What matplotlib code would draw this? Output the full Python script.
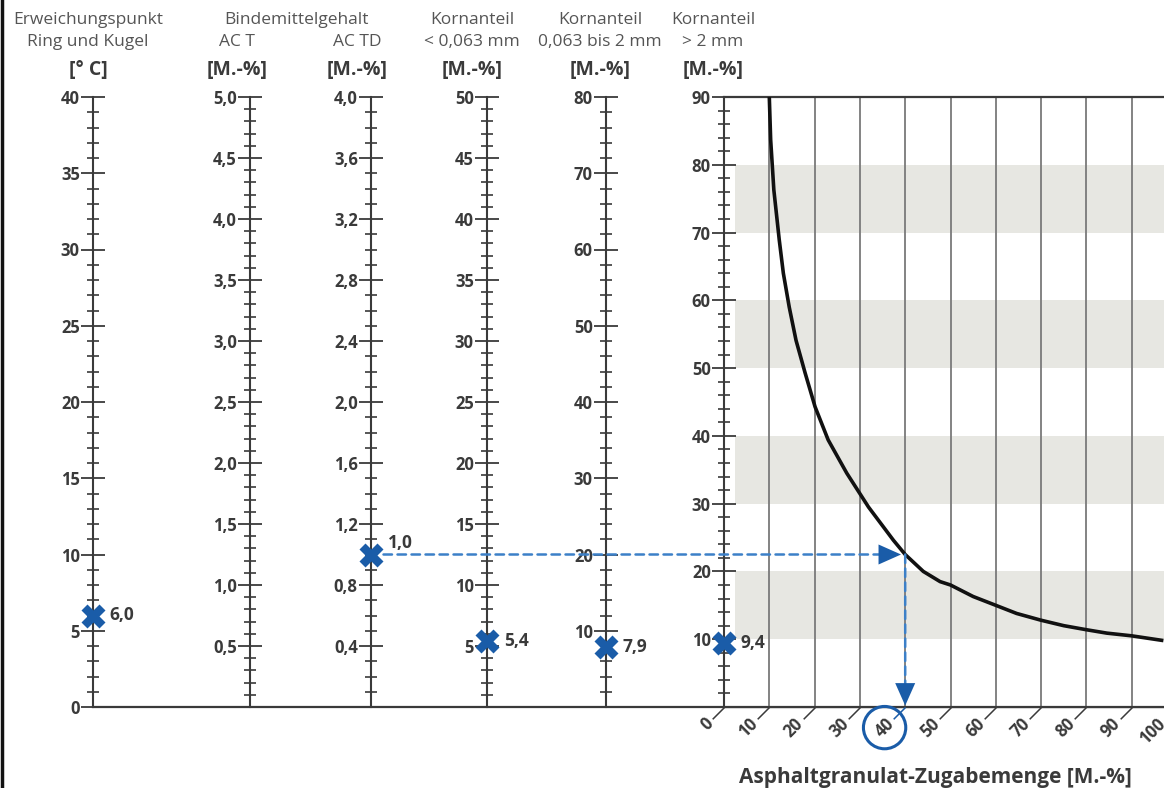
import matplotlib.pyplot as plt
import numpy as np
from matplotlib.ticker import MultipleLocator, FuncFormatter
from matplotlib.patches import ConnectionPatch
from matplotlib.path import Path
from matplotlib.lines import Line2D

plt.rcParams['font.family'] = ['Open Sans', 'DejaVu Sans']
plt.rcParams['font.weight'] = 'bold'

# --- data -------------------------------------------------------------
# vertical scales of the nomogram, left to right
scale_max = [40, 5.0, 4.0, 50, 80]
scale_major = [5, 0.5, 0.4, 5, 10]
scale_minor = [1, 0.1, 0.1, 1, 2]
scale_decimals = [0, 1, 1, 0, 0]
scale_values = [6.0, None, 1.0, 5.4, 7.9]

# right scale (Kornanteil > 2 mm) and the RA curve
coarse_max = 90
coarse_value = 9.4
zugabe_ticks = [0, 10, 20, 30, 40, 50, 60, 70, 80, 90, 100]
zugabe_result = 40
band_ranges = [(10, 20), (30, 40), (50, 60), (70, 80)]
curve_x = [10, 10.3, 11, 12.2, 13.1, 14.4, 15.9, 17.9, 20.1, 23, 27.1, 31.9, 37.4, 40,
           44, 47.7, 50, 55, 60, 64.6, 70, 75, 80, 84.5, 90, 97]
curve_y = [90, 83.7, 76.3, 68.9, 64, 59, 54.1, 49.3, 44.3, 39.4, 34.5, 29.5, 24.6, 22.5,
           20, 18.5, 18, 16.3, 15, 13.8, 12.8, 12, 11.4, 10.9, 10.5, 9.8]

header_row1 = ['Erweichungspunkt', '', '', 'Kornanteil', 'Kornanteil', 'Kornanteil']
header_row2 = ['Ring und Kugel', 'AC T', 'AC TD', '< 0,063 mm', '0,063 bis 2 mm', '> 2 mm']
header_unit = ['[° C]', '[M.-%]', '[M.-%]', '[M.-%]', '[M.-%]', '[M.-%]']
group_title = 'Bindemittelgehalt'
xlabel = 'Asphaltgranulat-Zugabemenge [M.-%]'

# --- layout (pixels) --------------------------------------------------
W, H, DPI = 1164, 788, 100
axis_px = [93, 250, 371, 487, 606, 724]
header_cx = [88, 237, 357, 472, 600, 713]
TOP, BOT, RIGHT = 97, 707, 1164

BLUE = '#1a5ca8'
BLUE_LINE = '#3c80c8'
DARK = '#3a3a3a'
GREY_TXT = '#555555'
TICK_FS = 12


def fx(px):
    return px / W


def fy(py):
    return 1 - py / H


def fmt(dec, show_zero):
    def f(v, pos):
        if abs(v) < 1e-9 and not show_zero:
            return ''
        return f'{v:.{dec}f}'.replace('.', ',')
    return FuncFormatter(f)


def style_scale(ax, vmax, major, minor, dec, show_zero=False):
    ax.set_ylim(0, vmax)
    ax.yaxis.set_major_locator(MultipleLocator(major))
    ax.yaxis.set_minor_locator(MultipleLocator(minor))
    ax.yaxis.set_major_formatter(fmt(dec, show_zero))
    ax.tick_params(axis='y', which='major', direction='inout', length=17, width=1.3,
                   pad=1, labelsize=TICK_FS, colors=DARK)
    ax.tick_params(axis='y', which='minor', direction='inout', length=8, width=1.2, colors=DARK)
    ax.spines['left'].set_color(DARK)
    ax.spines['left'].set_linewidth(1.5)


fig = plt.figure(figsize=(W / DPI, H / DPI), dpi=DPI)
ax_b, ax_h = fy(BOT), (BOT - TOP) / H

# baseline running under all scales
base = fig.add_axes([fx(axis_px[0]), ax_b, fx(RIGHT - axis_px[0]), ax_h])
base.patch.set_alpha(0)
for s in ['top', 'right', 'left']:
    base.spines[s].set_visible(False)
base.spines['bottom'].set_color(DARK)
base.spines['bottom'].set_linewidth(1.6)
base.set_xticks([])
base.set_yticks([])

# left scales
scale_axes = []
for i in range(len(scale_max)):
    ax = fig.add_axes([fx(axis_px[i]), ax_b, 0.001, ax_h])
    ax.patch.set_alpha(0)
    for s in ['top', 'right', 'bottom']:
        ax.spines[s].set_visible(False)
    ax.set_xticks([])
    ax.set_xlim(0, 1)
    style_scale(ax, scale_max[i], scale_major[i], scale_minor[i], scale_decimals[i], show_zero=(i == 0))
    if scale_values[i] is not None:
        ax.plot(0, scale_values[i], marker='X', ms=17, color=BLUE, mec='none', clip_on=False, zorder=5)
        dy = 8 if i == 2 else 0
        ax.annotate(f'{scale_values[i]:.1f}'.replace('.', ','), xy=(0, scale_values[i]),
                    xytext=(12, dy), textcoords='offset points', ha='left', va='center',
                    fontsize=12.5, color=DARK, annotation_clip=False)
    scale_axes.append(ax)

# right panel: > 2 mm scale with the curve
axr = fig.add_axes([fx(axis_px[5]), ax_b, fx(RIGHT - axis_px[5]), ax_h])
axr.set_xlim(0, (RIGHT - axis_px[5]) / 45.3 * 10)
style_scale(axr, coarse_max, 10, 2, 0)
axr.spines['right'].set_visible(False)
axr.spines['top'].set_color(DARK)
axr.spines['top'].set_linewidth(1.6)
axr.spines['bottom'].set_color(DARK)
axr.spines['bottom'].set_linewidth(1.6)
axr.set_xticks([])

for lo, hi in band_ranges:
    axr.axhspan(lo, hi, xmin=0.025, xmax=1, color='#e7e7e2', lw=0, zorder=0)
axr.vlines(zugabe_ticks[1:], 0, coarse_max, color='#7a7a7a', lw=1.3, zorder=1)
axr.plot(curve_x, curve_y, color='#111111', lw=2.6, zorder=3,
         solid_capstyle='butt', solid_joinstyle='round')

axr.plot(0, coarse_value, marker='X', ms=17, color=BLUE, mec='none', clip_on=False, zorder=5)
axr.annotate(f'{coarse_value:.1f}'.replace('.', ','), xy=(0, coarse_value), xytext=(12, 0),
             textcoords='offset points', ha='left', va='center', fontsize=12.5, color=DARK,
             annotation_clip=False)

# diagonal ticks and rotated labels of the bottom axis
diag = Path([(0, 0), (-1, -1)])
tick_colors = [BLUE if t == zugabe_result else DARK for t in zugabe_ticks]
for t, c in zip(zugabe_ticks, tick_colors):
    axr.plot(t, 0, ls='none', marker=diag, ms=17, mew=1.1, mec=c, clip_on=False, zorder=4)
    bbox = None
    if t == zugabe_result:
        bbox = dict(boxstyle='circle,pad=0.7', fc='none', ec=BLUE, lw=2.2)
    axr.annotate(str(t), xy=(t, 0), xytext=(-10, -10), textcoords='offset points',
                 rotation=45, rotation_mode='anchor', ha='right', va='center',
                 fontsize=12, color=DARK, annotation_clip=False, bbox=bbox)

# reading path: AC TD value -> curve -> Zugabemenge
y_hit = np.interp(zugabe_result, curve_x, curve_y)
dash = (0, (3.4, 2.2))
line = ConnectionPatch(xyA=(0, scale_values[2]), coordsA=scale_axes[2].transData,
                       xyB=(zugabe_result, y_hit), coordsB=axr.transData,
                       color=BLUE_LINE, lw=1.8, ls=dash, shrinkA=9, shrinkB=12, zorder=4)
fig.add_artist(line)
head = ConnectionPatch(xyA=(0, scale_values[2]), coordsA=scale_axes[2].transData,
                       xyB=(zugabe_result, y_hit), coordsB=axr.transData,
                       arrowstyle='-|>,head_length=0.9,head_width=0.4', mutation_scale=18,
                       color=BLUE, lw=0, shrinkA=9, shrinkB=3, zorder=5)
fig.add_artist(head)
axr.annotate('', xy=(zugabe_result, 0), xytext=(zugabe_result, y_hit),
             arrowprops=dict(arrowstyle='-', color=BLUE_LINE, lw=1.8, ls=dash,
                             shrinkA=0, shrinkB=12), zorder=4)
axr.annotate('', xy=(zugabe_result, 0), xytext=(zugabe_result, y_hit),
             arrowprops=dict(arrowstyle='-|>,head_length=0.9,head_width=0.4', mutation_scale=18,
                             color=BLUE, lw=0, shrinkA=0, shrinkB=1), zorder=5)

# headers
for cx, r1, r2, u in zip(header_cx, header_row1, header_row2, header_unit):
    if r1:
        fig.text(fx(cx), fy(20), r1, ha='center', va='center', fontsize=12.5,
                 fontweight='normal', color=GREY_TXT)
    fig.text(fx(cx), fy(42), r2, ha='center', va='center', fontsize=12.5,
             fontweight='normal', color=GREY_TXT)
    fig.text(fx(cx), fy(70), u, ha='center', va='center', fontsize=14, color=DARK)
fig.text(fx((header_cx[1] + header_cx[2]) / 2), fy(20), group_title, ha='center', va='center',
         fontsize=12.5, fontweight='normal', color=GREY_TXT)

fig.text(fx(935), fy(778), xlabel, ha='center', va='center', fontsize=15, color=DARK)

# frame at the left edge of the picture
fig.add_artist(Line2D([fx(2), fx(2)], [0, 1], transform=fig.transFigure, color='#111111', lw=2.5))

fig.savefig('out.png', dpi=DPI, facecolor='white')
